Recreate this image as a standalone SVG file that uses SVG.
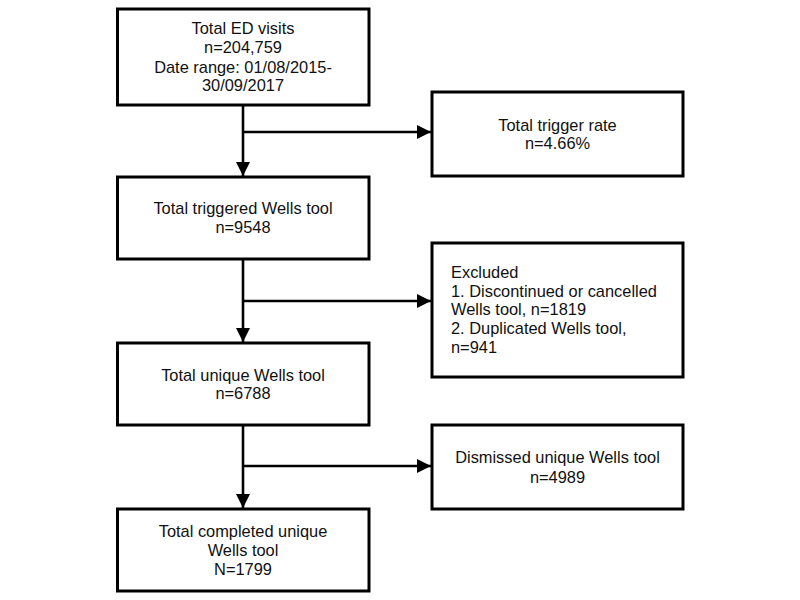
<svg xmlns="http://www.w3.org/2000/svg" width="800" height="600" viewBox="0 0 800 600">
<style>
.box{fill:#fff;stroke:#000;stroke-width:3}
.t{font-family:"Liberation Sans",Arial,sans-serif;font-size:16.4px;fill:#111}
.c{text-anchor:middle}
.ln{stroke:#000;stroke-width:2.6;fill:none}
</style>
<defs>
<marker id="ah" markerUnits="userSpaceOnUse" markerWidth="16" markerHeight="16" refX="14" refY="7" orient="auto">
<path d="M0,0 L14,7 L0,14 Z" fill="#000"/>
</marker>
</defs>
<rect width="800" height="600" fill="#fff"/>
<g id="connectors">
<line class="ln" x1="243" y1="105" x2="243" y2="176" marker-end="url(#ah)"/>
<line class="ln" x1="243" y1="132" x2="431" y2="132" marker-end="url(#ah)"/>
<line class="ln" x1="243" y1="259" x2="243" y2="342" marker-end="url(#ah)"/>
<line class="ln" x1="243" y1="301" x2="431" y2="301" marker-end="url(#ah)"/>
<line class="ln" x1="243" y1="425" x2="243" y2="508" marker-end="url(#ah)"/>
<line class="ln" x1="243" y1="466" x2="431" y2="466" marker-end="url(#ah)"/>
</g>
<g id="n1">
<rect class="box" x="117.5" y="9" width="251.5" height="96"/>
<text class="t c" x="243" y="34">Total ED visits</text>
<text class="t c" x="243" y="53">n=204,759</text>
<text class="t c" x="243" y="73">Date range: 01/08/2015-</text>
<text class="t c" x="243" y="91">30/09/2017</text>
</g>
<g id="n2">
<rect class="box" x="117.5" y="177" width="251.5" height="82"/>
<text class="t c" x="243" y="214">Total triggered Wells tool</text>
<text class="t c" x="243" y="233">n=9548</text>
</g>
<g id="n3">
<rect class="box" x="117.5" y="343" width="251.5" height="82"/>
<text class="t c" x="243" y="381">Total unique Wells tool</text>
<text class="t c" x="243" y="399">n=6788</text>
</g>
<g id="n4">
<rect class="box" x="117.5" y="509" width="251.5" height="82"/>
<text class="t c" x="243" y="537">Total completed unique</text>
<text class="t c" x="243" y="556">Wells tool</text>
<text class="t c" x="243" y="575">N=1799</text>
</g>
<g id="r1">
<rect class="box" x="432" y="92" width="251" height="84"/>
<text class="t c" x="557.5" y="131">Total trigger rate</text>
<text class="t c" x="557.5" y="149">n=4.66%</text>
</g>
<g id="r2">
<rect class="box" x="432" y="243" width="251" height="134"/>
<text class="t" x="451" y="278">Excluded</text>
<text class="t" x="451" y="297">1. Discontinued or cancelled</text>
<text class="t" x="451" y="315">Wells tool, n=1819</text>
<text class="t" x="451" y="334">2. Duplicated Wells tool,</text>
<text class="t" x="451" y="353">n=941</text>
</g>
<g id="r3">
<rect class="box" x="432" y="425" width="251" height="84"/>
<text class="t c" x="557.5" y="463">Dismissed unique Wells tool</text>
<text class="t c" x="557.5" y="483">n=4989</text>
</g>
</svg>
